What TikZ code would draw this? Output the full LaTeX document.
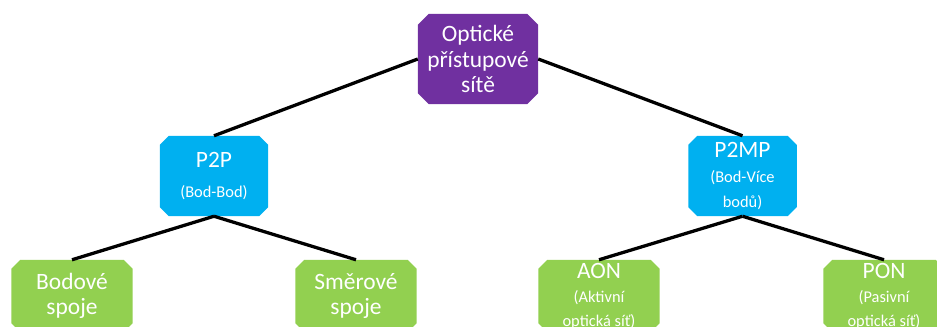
\documentclass[tikz,border=0pt]{standalone}
\usepackage{fontspec}
\setmainfont{Carlito}
\usetikzlibrary{backgrounds}
\definecolor{cpurple}{HTML}{7030A0}
\definecolor{cblue}{HTML}{00B0F0}
\definecolor{cgreen}{HTML}{92D050}
\newcommand{\chamfill}[3]{%
  \fill[#2] ([xshift=#3]#1.north west) -- ([xshift=-#3]#1.north east)
    -- ([yshift=-#3]#1.north east) -- ([yshift=#3]#1.south east)
    -- ([xshift=-#3]#1.south east) -- ([xshift=#3]#1.south west)
    -- ([yshift=#3]#1.south west) -- ([yshift=-#3]#1.north west) -- cycle;}
\begin{document}
\begin{tikzpicture}[x=0.03cm,y=-0.03cm,
  box/.style={rectangle, draw=none, text=white, align=center, inner sep=0pt},
  topbox/.style={box, minimum width=3.6cm, minimum height=2.7cm,
    font=\fontsize{20}{22}\selectfont},
  midbox/.style={box, minimum width=3.24cm, minimum height=2.4cm},
  leafbox/.style={box, minimum width=3.63cm, minimum height=2.16cm},
  big/.style={font=\fontsize{20}{21.5}\selectfont},
  link/.style={line width=2.8pt, black}]
\useasboundingbox (0,0) rectangle (937,326);
\clip (0,0) rectangle (937,326);
\node[topbox] (top) at (478,59) {Optické\\přístupové\\sítě};
\node[midbox, font=\fontsize{20}{25.5}\selectfont] (p2p) at (214,176)
  {P2P\\{\fontsize{14}{25.5}\selectfont(Bod-Bod)}};
\node[midbox, font=\fontsize{20}{21}\selectfont] (p2mp) at (742.5,176)
  {P2MP\\{\fontsize{14}{21}\selectfont(Bod-Více}\\{\fontsize{14}{21}\selectfont bodů)}};
\node[leafbox, big] (bod) at (72,296) {Bodové\\spoje};
\node[leafbox, big] (smer) at (356,296) {Směrové\\spoje};
\node[leafbox, font=\fontsize{20}{20.5}\selectfont] (aon) at (599,296)
  {AON\\{\fontsize{14}{20.5}\selectfont(Aktivní}\\{\fontsize{14}{20.5}\selectfont optická síť)}};
\node[leafbox, font=\fontsize{20}{20.5}\selectfont] (pon) at (884,296)
  {PON\\{\fontsize{14}{20.5}\selectfont(Pasivní}\\{\fontsize{14}{20.5}\selectfont optická síť)}};
\begin{scope}[on background layer]
  \chamfill{top}{cpurple}{0.33cm}
  \chamfill{p2p}{cblue}{0.27cm}
  \chamfill{p2mp}{cblue}{0.27cm}
  \chamfill{bod}{cgreen}{0.27cm}
  \chamfill{smer}{cgreen}{0.27cm}
  \chamfill{aon}{cgreen}{0.27cm}
  \chamfill{pon}{cgreen}{0.27cm}
\end{scope}
\draw[link] (top.west) -- (p2p.north);
\draw[link] (top.east) -- (p2mp.north);
\draw[link] (p2p.south) -- (bod.north);
\draw[link] (p2p.south) -- (smer.north);
\draw[link] (p2mp.south) -- (aon.north);
\draw[link] (p2mp.south) -- (pon.north);
\end{tikzpicture}
\end{document}
